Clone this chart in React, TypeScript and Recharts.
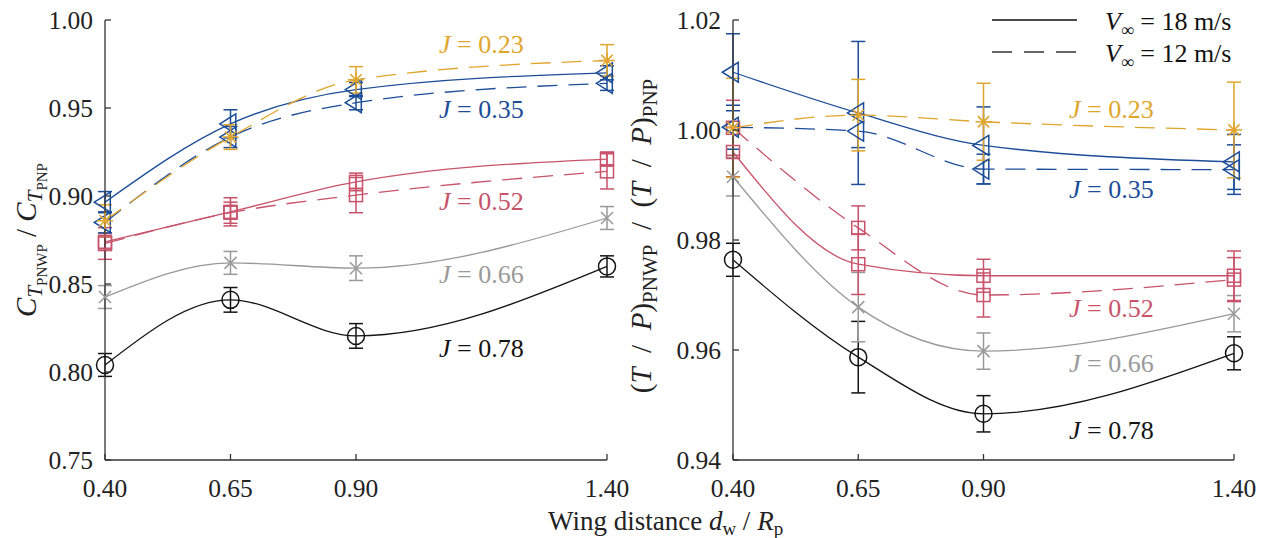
import React from "react";
import { LineChart, Line, XAxis, YAxis, ErrorBar } from "recharts";

const FONT = '"Liberation Serif", "Times New Roman", serif';

const DISTANCES = [0.4, 0.65, 0.9, 1.4];
const X_TICKS = [0.4, 0.65, 0.9, 1.4];
const CT_TICKS = [0.75, 0.8, 0.85, 0.9, 0.95, 1.0];
const TP_TICKS = [0.94, 0.96, 0.98, 1.0, 1.02];

// left panel: C_T,PNWP / C_T,PNP
const CT_J23_V12 = [0.886, 0.9335, 0.966, 0.977];
const CT_J23_V12_ERR = [0.009, 0.007, 0.0075, 0.009];
const CT_J35_V18 = [0.8965, 0.941, 0.9605, 0.97];
const CT_J35_V18_ERR = [0.006, 0.008, 0.004, 0.004];
const CT_J35_V12 = [0.885, 0.9335, 0.953, 0.964];
const CT_J35_V12_ERR = [0.006, 0.006, 0.004, 0.004];
const CT_J52_V18 = [0.874, 0.891, 0.908, 0.921];
const CT_J52_V18_ERR = [0.005, 0.008, 0.005, 0.004];
const CT_J52_V12 = [0.873, 0.8905, 0.9005, 0.914];
const CT_J52_V12_ERR = [0.009, 0.006, 0.01, 0.01];
const CT_J66_V18 = [0.8426, 0.862, 0.859, 0.8875];
const CT_J66_V18_ERR = [0.0065, 0.0065, 0.007, 0.0065];
const CT_J78_V18 = [0.804, 0.841, 0.8205, 0.86];
const CT_J78_V18_ERR = [0.0065, 0.007, 0.007, 0.006];

// right panel: (T/P)_PNWP / (T/P)_PNP
const TP_J23_V12 = [1.0004, 1.0027, 1.0015, 1.0];
const TP_J23_V12_ERR = [0.009, 0.0065, 0.007, 0.0087];
const TP_J35_V18 = [1.0105, 1.0031, 0.9972, 0.9942];
const TP_J35_V18_ERR = [0.007, 0.013, 0.007, 0.005];
const TP_J35_V12 = [1.0005, 0.9998, 0.9929, 0.9928];
const TP_J35_V12_ERR = [0.004, 0.003, 0.0027, 0.0045];
const TP_J52_V18 = [0.996, 0.9756, 0.9735, 0.9735];
const TP_J52_V18_ERR = [0.0045, 0.0055, 0.003, 0.0045];
const TP_J52_V12 = [1.0004, 0.9822, 0.97, 0.9728];
const TP_J52_V12_ERR = [0.005, 0.004, 0.004, 0.004];
const TP_J66_V18 = [0.9915, 0.9678, 0.9598, 0.9666];
const TP_J66_V18_ERR = [0.0035, 0.0063, 0.0033, 0.0033];
const TP_J78_V18 = [0.9764, 0.9587, 0.9484, 0.9594];
const TP_J78_V18_ERR = [0.003, 0.0065, 0.0033, 0.003];

const J_LABELS = ["0.23", "0.35", "0.52", "0.66", "0.78"];

const GOLD = "#E0A52C";
const BLUE = "#1C4D98";
const RED = "#C8536B";
const GRAY = "#999999";
const BLACK = "#141414";
const AXIS = "#333333";
const DASH = "20 11";

type MarkerKind = "circle" | "square" | "cross" | "star" | "triangle";

interface Series {
  key: string;
  values: number[];
  errors: number[];
  color: string;
  dashed: boolean;
  marker: MarkerKind;
}

const CT_SERIES: Series[] = [
  { key: "j78v18", values: CT_J78_V18, errors: CT_J78_V18_ERR, color: BLACK, dashed: false, marker: "circle" },
  { key: "j66v18", values: CT_J66_V18, errors: CT_J66_V18_ERR, color: GRAY, dashed: false, marker: "cross" },
  { key: "j52v12", values: CT_J52_V12, errors: CT_J52_V12_ERR, color: RED, dashed: true, marker: "square" },
  { key: "j52v18", values: CT_J52_V18, errors: CT_J52_V18_ERR, color: RED, dashed: false, marker: "square" },
  { key: "j35v12", values: CT_J35_V12, errors: CT_J35_V12_ERR, color: BLUE, dashed: true, marker: "triangle" },
  { key: "j35v18", values: CT_J35_V18, errors: CT_J35_V18_ERR, color: BLUE, dashed: false, marker: "triangle" },
  { key: "j23v12", values: CT_J23_V12, errors: CT_J23_V12_ERR, color: GOLD, dashed: true, marker: "star" },
];

const TP_SERIES: Series[] = [
  { key: "j78v18", values: TP_J78_V18, errors: TP_J78_V18_ERR, color: BLACK, dashed: false, marker: "circle" },
  { key: "j66v18", values: TP_J66_V18, errors: TP_J66_V18_ERR, color: GRAY, dashed: false, marker: "cross" },
  { key: "j52v12", values: TP_J52_V12, errors: TP_J52_V12_ERR, color: RED, dashed: true, marker: "square" },
  { key: "j52v18", values: TP_J52_V18, errors: TP_J52_V18_ERR, color: RED, dashed: false, marker: "square" },
  { key: "j35v12", values: TP_J35_V12, errors: TP_J35_V12_ERR, color: BLUE, dashed: true, marker: "triangle" },
  { key: "j35v18", values: TP_J35_V18, errors: TP_J35_V18_ERR, color: BLUE, dashed: false, marker: "triangle" },
  { key: "j23v12", values: TP_J23_V12, errors: TP_J23_V12_ERR, color: GOLD, dashed: true, marker: "star" },
];

function buildRows(series: Series[]) {
  return DISTANCES.map((d, i) => {
    const row: Record<string, number> = { d };
    for (const s of series) {
      row[s.key] = s.values[i];
      row[s.key + "Err"] = s.errors[i];
    }
    return row;
  });
}

function Marker({ cx, cy, kind, color }: { cx?: number; cy?: number; kind: MarkerKind; color: string }) {
  if (cx == null || cy == null) return null;
  const common = { fill: "none", stroke: color, strokeWidth: 1.5 };
  if (kind === "circle") return <circle cx={cx} cy={cy} r={8.5} {...common} />;
  if (kind === "square") return <rect x={cx - 6.5} y={cy - 6.5} width={13} height={13} {...common} />;
  if (kind === "cross") {
    const r = 6;
    return <path d={`M${cx - r},${cy - r}L${cx + r},${cy + r}M${cx - r},${cy + r}L${cx + r},${cy - r}`} {...common} />;
  }
  if (kind === "star") {
    const r = 8;
    const q = 5.6;
    return (
      <path
        d={`M${cx - r},${cy}L${cx + r},${cy}M${cx},${cy - r}L${cx},${cy + r}M${cx - q},${cy - q}L${cx + q},${cy + q}M${cx - q},${cy + q}L${cx + q},${cy - q}`}
        {...common}
      />
    );
  }
  return <path d={`M${cx - 10.7},${cy}L${cx + 5.3},${cy - 10}L${cx + 5.3},${cy + 10}Z`} {...common} />;
}

function XTick(props: any) {
  const { x, y, payload } = props;
  return (
    <g>
      <line x1={x} x2={x} y1={y} y2={y - 6} stroke={AXIS} strokeWidth={1.3} />
      <text x={x} y={y + 37} textAnchor="middle" fontFamily={FONT} fontSize={25.5} fill="#222">
        {Number(payload.value).toFixed(2)}
      </text>
    </g>
  );
}

function YTick(props: any) {
  const { x, y, payload } = props;
  return (
    <g>
      <line x1={x} x2={x + 6} y1={y} y2={y} stroke={AXIS} strokeWidth={1.3} />
      <text x={x - 12} y={y} dy="0.34em" textAnchor="end" fontFamily={FONT} fontSize={25.5} fill="#222">
        {Number(payload.value).toFixed(2)}
      </text>
    </g>
  );
}

function Panel({
  series,
  domain,
  ticks,
  width,
  marginLeft,
  marginRight,
  yWidth,
}: {
  series: Series[];
  domain: [number, number];
  ticks: number[];
  width: number;
  marginLeft: number;
  marginRight: number;
  yWidth: number;
}) {
  const rows = buildRows(series);
  return (
    <LineChart
      width={width}
      height={538}
      data={rows}
      margin={{ top: 20, right: marginRight, bottom: 38, left: marginLeft }}
    >
      <XAxis
        dataKey="d"
        type="number"
        domain={[0.4, 1.4]}
        ticks={X_TICKS}
        interval={0}
        height={40}
        tickSize={0}
        tickMargin={0}
        tickLine={false}
        axisLine={{ stroke: AXIS, strokeWidth: 1.3 }}
        tick={<XTick />}
      />
      <YAxis
        type="number"
        domain={domain}
        ticks={ticks}
        interval={0}
        width={yWidth}
        tickSize={0}
        tickMargin={0}
        tickLine={false}
        axisLine={{ stroke: AXIS, strokeWidth: 1.3 }}
        tick={<YTick />}
      />
      {series.map((s) => (
        <Line
          key={s.key}
          dataKey={s.key}
          type="monotone"
          stroke={s.color}
          strokeWidth={1.3}
          strokeDasharray={s.dashed ? DASH : undefined}
          isAnimationActive={false}
          dot={(p: any) => <Marker key={`${s.key}-${p.index}`} cx={p.cx} cy={p.cy} kind={s.marker} color={s.color} />}
          activeDot={false}
        >
          <ErrorBar
            dataKey={s.key + "Err"}
            direction="y"
            width={7}
            stroke={s.color}
            strokeWidth={1.5}
            isAnimationActive={false}
          />
        </Line>
      ))}
    </LineChart>
  );
}

const J_COLORS = [GOLD, BLUE, RED, GRAY, BLACK];
const LEFT_LABEL_POS = [
  [439, 53],
  [439, 118],
  [439, 210],
  [439, 283],
  [439, 357],
];
const RIGHT_LABEL_POS = [
  [1069, 118],
  [1069, 198],
  [1069, 317],
  [1069, 372],
  [1069, 439],
];

function JLabel({ x, y, text, color }: { x: number; y: number; text: string; color: string }) {
  return (
    <text x={x} y={y} fill={color} fontFamily={FONT} fontSize={26}>
      <tspan fontStyle="italic">J</tspan>
      {" = " + text}
    </text>
  );
}

const SP = "\u2002";

function Overlay() {
  return (
    <svg
      width={1272}
      height={538}
      style={{ position: "absolute", left: 0, top: 0, pointerEvents: "none" }}
    >
      {J_LABELS.map((t, i) => (
        <JLabel key={"l" + t} x={LEFT_LABEL_POS[i][0]} y={LEFT_LABEL_POS[i][1]} text={t} color={J_COLORS[i]} />
      ))}
      {J_LABELS.map((t, i) => (
        <JLabel key={"r" + t} x={RIGHT_LABEL_POS[i][0]} y={RIGHT_LABEL_POS[i][1]} text={t} color={J_COLORS[i]} />
      ))}

      {/* legend */}
      <line x1={992} x2={1077} y1={20} y2={20} stroke="#111" strokeWidth={1.5} />
      <line x1={992} x2={1077} y1={52} y2={52} stroke="#333" strokeWidth={1.5} strokeDasharray="20 12" />
      <text x={1105} y={30} fontFamily={FONT} fontSize={26} fill="#111">
        <tspan fontStyle="italic">V</tspan>
        <tspan fontSize={18} dy={6}>∞</tspan>
        <tspan dy={-6}> = 18 m/s</tspan>
      </text>
      <text x={1105} y={62} fontFamily={FONT} fontSize={26} fill="#111">
        <tspan fontStyle="italic">V</tspan>
        <tspan fontSize={18} dy={6}>∞</tspan>
        <tspan dy={-6}> = 12 m/s</tspan>
      </text>

      {/* x label */}
      <text x={548} y={530} fontFamily={FONT} fontSize={27} fill="#222">
        Wing distance <tspan fontStyle="italic">d</tspan>
        <tspan fontSize={19} dy={5}>w</tspan>
        <tspan dy={-5}> / </tspan>
        <tspan fontStyle="italic">R</tspan>
        <tspan fontSize={19} dy={5}>p</tspan>
      </text>

      {/* left y label */}
      <text transform="translate(36,240) rotate(-90)" textAnchor="middle" fontFamily={FONT} fontSize={29} fill="#222">
        <tspan fontStyle="italic">C</tspan>
        <tspan fontStyle="italic" fontSize={21} dy={6}>T</tspan>
        <tspan fontSize={15} dy={5}>PNWP</tspan>
        <tspan dy={-11}>{" / "}</tspan>
        <tspan fontStyle="italic">C</tspan>
        <tspan fontStyle="italic" fontSize={21} dy={6}>T</tspan>
        <tspan fontSize={15} dy={5}>PNP</tspan>
      </text>

      {/* right y label */}
      <text transform="translate(651,236) rotate(-90)" textAnchor="middle" fontFamily={FONT} fontSize={29} fill="#222">
        <tspan>(</tspan>
        <tspan fontStyle="italic">T</tspan>
        <tspan>{SP + "/" + SP}</tspan>
        <tspan fontStyle="italic">P</tspan>
        <tspan>)</tspan>
        <tspan fontSize={21} dy={6}>PNWP</tspan>
        <tspan dy={-6}>{SP + "/" + SP + "("}</tspan>
        <tspan fontStyle="italic">T</tspan>
        <tspan>{SP + "/" + SP}</tspan>
        <tspan fontStyle="italic">P</tspan>
        <tspan>)</tspan>
        <tspan fontSize={21} dy={6}>PNP</tspan>
      </text>
    </svg>
  );
}

export default function App() {
  return (
    <div style={{ position: "absolute", left: 0, top: 0, width: 1272, height: 538, background: "#fff", fontFamily: FONT }}>
      <div style={{ position: "absolute", left: 0, top: 0 }}>
        <Panel series={CT_SERIES} domain={[0.75, 1.0]} ticks={CT_TICKS} width={640} marginLeft={10} marginRight={33} yWidth={95} />
      </div>
      <div style={{ position: "absolute", left: 640, top: 0 }}>
        <Panel series={TP_SERIES} domain={[0.94, 1.02]} ticks={TP_TICKS} width={632} marginLeft={10} marginRight={38} yWidth={83} />
      </div>
      <Overlay />
    </div>
  );
}
